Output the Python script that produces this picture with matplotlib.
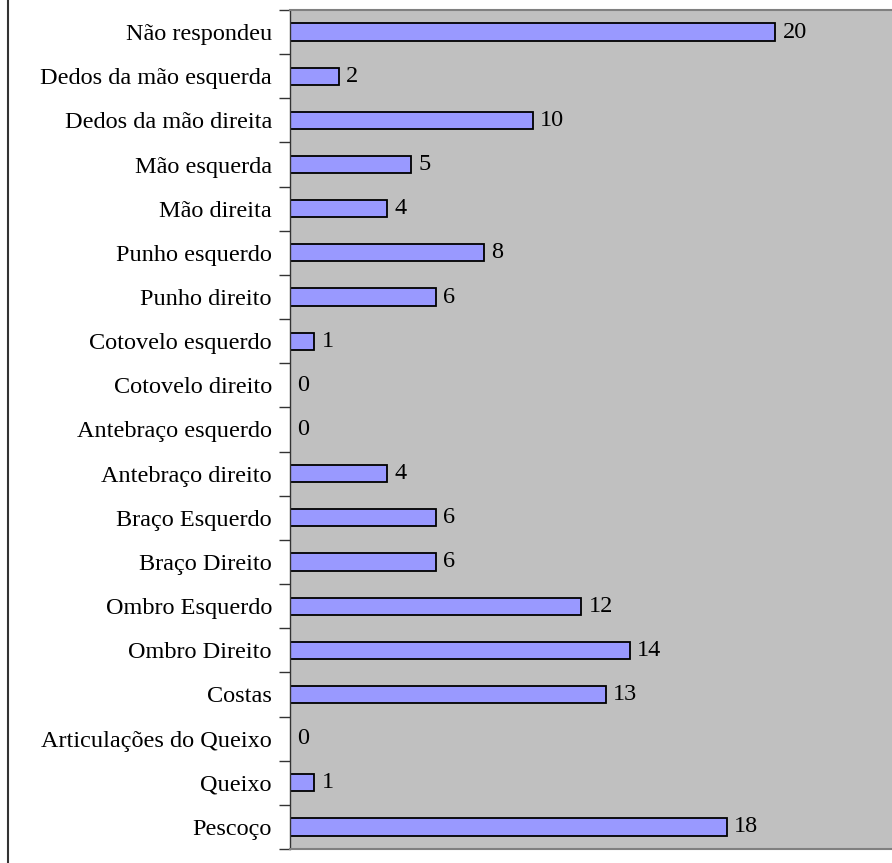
import matplotlib.pyplot as plt
from matplotlib.lines import Line2D

plt.rcParams['font.family'] = ['Liberation Serif', 'DejaVu Serif']

# categories listed bottom to top
categories = ['Pescoço', 'Queixo', 'Articulações do Queixo', 'Costas',
              'Ombro Direito', 'Ombro Esquerdo', 'Braço Direito', 'Braço Esquerdo',
              'Antebraço direito', 'Antebraço esquerdo', 'Cotovelo direito',
              'Cotovelo esquerdo', 'Punho direito', 'Punho esquerdo', 'Mão direita',
              'Mão esquerda', 'Dedos da mão direita', 'Dedos da mão esquerda',
              'Não respondeu']
values = [18, 1, 0, 13, 14, 12, 6, 6, 4, 0, 0, 1, 6, 8, 4, 5, 10, 2, 20]

fig = plt.figure(figsize=(8.92, 8.63), dpi=100)
ax = fig.add_axes([290/892, 1 - 849/863, 1 - 290/892, 839/863])
ax.set_facecolor('#C0C0C0')

pos = list(range(len(categories)))
ax.barh(pos, values, height=0.39, color='#9999FF', edgecolor='black', linewidth=1.3)

for p, v in zip(pos, values):
    ax.text(v + 0.3, p, str(v), va='center', ha='left', fontsize=17.5)

ax.set_xlim(0, 24.8)
ax.set_ylim(-0.5, len(categories) - 0.5)
ax.set_xticks([])
ax.set_yticks(pos)
ax.set_yticklabels(categories, fontsize=17.5)
ax.set_yticks([p - 0.5 for p in pos] + [len(pos) - 0.5], minor=True)
ax.tick_params(axis='y', which='major', length=0, pad=13)
ax.tick_params(axis='y', which='minor', length=8, width=1, color='#333333')

for side in ['top', 'bottom']:
    ax.spines[side].set_color('#808080')
    ax.spines[side].set_linewidth(1.5)
ax.spines['right'].set_visible(False)
ax.spines['left'].set_color('#333333')
ax.spines['left'].set_linewidth(1)

# border line on the left of the figure
fig.add_artist(Line2D([7.5/892, 7.5/892], [0, 1], color='#333333', linewidth=1.5,
                      transform=fig.transFigure))

plt.savefig('out.png', dpi=100)
